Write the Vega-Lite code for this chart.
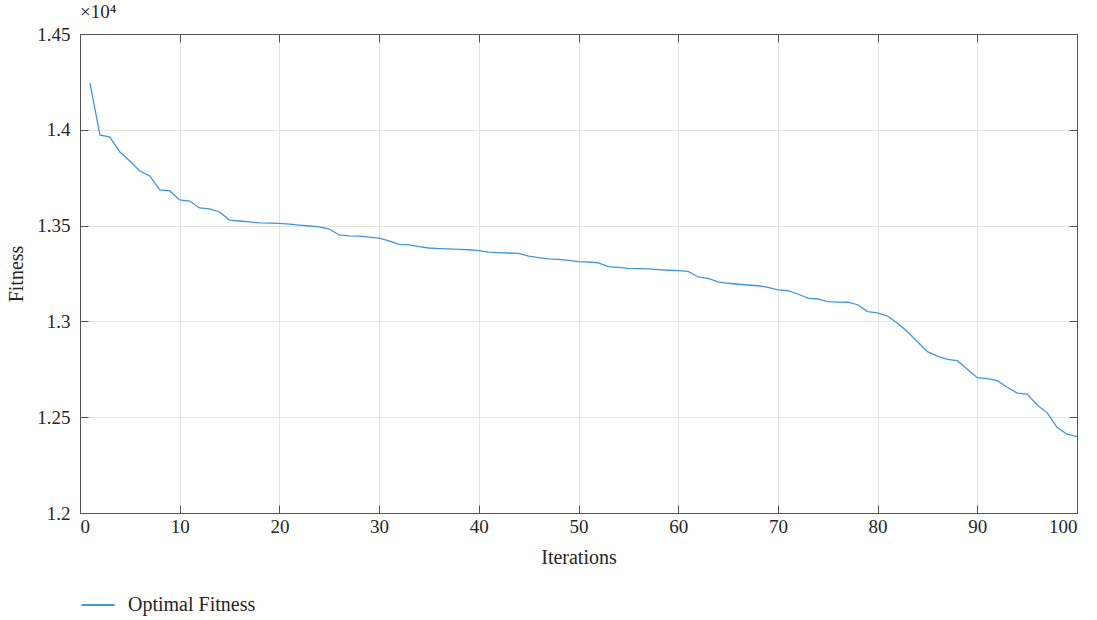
{
  "$schema": "https://vega.github.io/schema/vega-lite/v6.json",
  "width": 997,
  "height": 479,
  "autosize": {"type": "none"},
  "padding": {"left": 80, "top": 34, "right": 20, "bottom": 107},
  "background": "white",
  "title": {
    "text": "×10⁴",
    "anchor": "start",
    "frame": "group",
    "offset": 3,
    "font": "Liberation Serif",
    "fontSize": 19,
    "fontWeight": "normal",
    "color": "#262626"
  },
  "config": {
    "view": {"stroke": "#555555", "strokeWidth": 1},
    "font": "Liberation Serif",
    "axis": {
      "labelFont": "Liberation Serif",
      "titleFont": "Liberation Serif",
      "labelFontSize": 19,
      "titleFontSize": 20,
      "titleFontWeight": "normal",
      "labelColor": "#262626",
      "titleColor": "#262626",
      "domainColor": "#555555",
      "tickColor": "#555555",
      "gridColor": "#e3e3e3",
      "gridWidth": 1
    }
  },
  "data": {
    "values": [
      {"it": 1, "fit": 14244}, {"it": 2, "fit": 13973}, {"it": 3, "fit": 13962}, {"it": 4, "fit": 13884},
      {"it": 5, "fit": 13837}, {"it": 6, "fit": 13785}, {"it": 7, "fit": 13759}, {"it": 8, "fit": 13686},
      {"it": 9, "fit": 13681}, {"it": 10, "fit": 13634}, {"it": 11, "fit": 13628}, {"it": 12, "fit": 13592},
      {"it": 13, "fit": 13587}, {"it": 14, "fit": 13571}, {"it": 15, "fit": 13529}, {"it": 16, "fit": 13524},
      {"it": 17, "fit": 13519}, {"it": 18, "fit": 13514}, {"it": 19, "fit": 13513}, {"it": 20, "fit": 13512},
      {"it": 21, "fit": 13508}, {"it": 22, "fit": 13503}, {"it": 23, "fit": 13498}, {"it": 24, "fit": 13493},
      {"it": 25, "fit": 13482}, {"it": 26, "fit": 13451}, {"it": 27, "fit": 13446}, {"it": 28, "fit": 13445},
      {"it": 29, "fit": 13440}, {"it": 30, "fit": 13435}, {"it": 31, "fit": 13420}, {"it": 32, "fit": 13402},
      {"it": 33, "fit": 13399}, {"it": 34, "fit": 13390}, {"it": 35, "fit": 13383}, {"it": 36, "fit": 13380},
      {"it": 37, "fit": 13378}, {"it": 38, "fit": 13376}, {"it": 39, "fit": 13374}, {"it": 40, "fit": 13369},
      {"it": 41, "fit": 13362}, {"it": 42, "fit": 13359}, {"it": 43, "fit": 13357}, {"it": 44, "fit": 13355},
      {"it": 45, "fit": 13341}, {"it": 46, "fit": 13333}, {"it": 47, "fit": 13326}, {"it": 48, "fit": 13324},
      {"it": 49, "fit": 13319}, {"it": 50, "fit": 13312}, {"it": 51, "fit": 13310}, {"it": 52, "fit": 13306},
      {"it": 53, "fit": 13286}, {"it": 54, "fit": 13282}, {"it": 55, "fit": 13277}, {"it": 56, "fit": 13275},
      {"it": 57, "fit": 13274}, {"it": 58, "fit": 13270}, {"it": 59, "fit": 13267}, {"it": 60, "fit": 13265},
      {"it": 61, "fit": 13261}, {"it": 62, "fit": 13232}, {"it": 63, "fit": 13225}, {"it": 64, "fit": 13206},
      {"it": 65, "fit": 13199}, {"it": 66, "fit": 13194}, {"it": 67, "fit": 13190}, {"it": 68, "fit": 13186},
      {"it": 69, "fit": 13178}, {"it": 70, "fit": 13164}, {"it": 71, "fit": 13160}, {"it": 72, "fit": 13143},
      {"it": 73, "fit": 13121}, {"it": 74, "fit": 13117}, {"it": 75, "fit": 13103}, {"it": 76, "fit": 13101},
      {"it": 77, "fit": 13100}, {"it": 78, "fit": 13087}, {"it": 79, "fit": 13051}, {"it": 80, "fit": 13044},
      {"it": 81, "fit": 13028}, {"it": 82, "fit": 12990}, {"it": 83, "fit": 12946}, {"it": 84, "fit": 12894},
      {"it": 85, "fit": 12842}, {"it": 86, "fit": 12819}, {"it": 87, "fit": 12802}, {"it": 88, "fit": 12795},
      {"it": 89, "fit": 12750}, {"it": 90, "fit": 12706}, {"it": 91, "fit": 12701}, {"it": 92, "fit": 12691},
      {"it": 93, "fit": 12656}, {"it": 94, "fit": 12626}, {"it": 95, "fit": 12621}, {"it": 96, "fit": 12564},
      {"it": 97, "fit": 12524}, {"it": 98, "fit": 12447}, {"it": 99, "fit": 12411}, {"it": 100, "fit": 12398}
    ]
  },
  "resolve": {"axis": {"x": "independent", "y": "independent"}},
  "layer": [
    {
      "mark": {"type": "line", "strokeWidth": 1.3, "clip": true},
      "encoding": {
        "x": {
          "field": "it",
          "type": "quantitative",
          "scale": {"domain": [0, 100], "nice": false, "zero": false},
          "axis": {
            "title": "Iterations",
            "values": [0, 10, 20, 30, 40, 50, 60, 70, 80, 90, 100],
            "tickSize": -8,
            "labelPadding": 12,
            "titlePadding": 11,
            "grid": true
          }
        },
        "y": {
          "field": "fit",
          "type": "quantitative",
          "scale": {"domain": [12000, 14500], "nice": false, "zero": false},
          "axis": {
            "title": "Fitness",
            "values": [12000, 12500, 13000, 13500, 14000, 14500],
            "labelExpr": "datum.value / 10000 + ''",
            "tickSize": -8,
            "labelPadding": 18,
            "titlePadding": 10,
            "grid": true
          }
        },
        "color": {
          "datum": "Optimal Fitness",
          "type": "nominal",
          "scale": {"range": ["#4096dc"]},
          "legend": {
            "title": null,
            "orient": "none",
            "legendX": 0,
            "legendY": 553,
            "symbolType": "stroke",
            "symbolSize": 1100,
            "symbolStrokeWidth": 2.2,
            "labelFont": "Liberation Serif",
            "labelFontSize": 20,
            "labelColor": "#262626",
            "labelOffset": 12
          }
        }
      }
    },
    {
      "mark": {"type": "line", "opacity": 0},
      "encoding": {
        "x": {
          "field": "it",
          "type": "quantitative",
          "axis": {
            "orient": "top",
            "title": null,
            "labels": false,
            "values": [0, 10, 20, 30, 40, 50, 60, 70, 80, 90, 100],
            "tickSize": -8,
            "grid": false
          }
        },
        "y": {
          "field": "fit",
          "type": "quantitative",
          "axis": {
            "orient": "right",
            "title": null,
            "labels": false,
            "values": [12000, 12500, 13000, 13500, 14000, 14500],
            "tickSize": -8,
            "grid": false
          }
        }
      }
    }
  ]
}
